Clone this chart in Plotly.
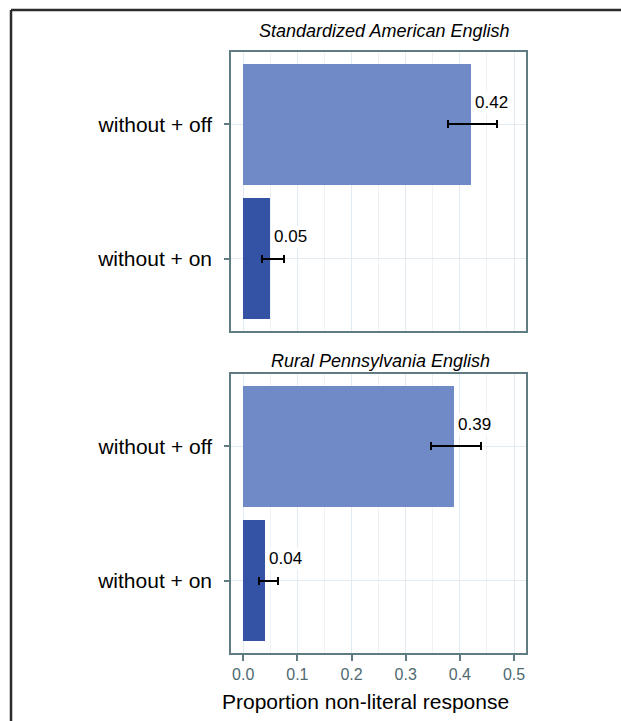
import plotly.graph_objects as go

# Proportion of non-literal responses by condition, for two dialect groups
panels = ["Standardized American English", "Rural Pennsylvania English"]
categories = ["without + on", "without + off"]

sae_values = [0.05, 0.42]
sae_lo = [0.035, 0.378]
sae_hi = [0.076, 0.469]

rpe_values = [0.04, 0.39]
rpe_lo = [0.030, 0.347]
rpe_hi = [0.065, 0.439]

x_ticks = [0.0, 0.1, 0.2, 0.3, 0.4, 0.5]
x_ticktext = ["0.0", "0.1", "0.2", "0.3", "0.4", "0.5"]
x_title = "Proportion non-literal response"

bar_colors = ["#3553a5", "#6f8ac7"]

W, H = 621, 721
FONT = "Liberation Sans, Arial, sans-serif"
GRID = "#e2eaf2"
BORDER = "#5f7c82"
TICKCOL = "#4f6a70"

# pixel helpers for layout placement
def px_x(p):
    return p / W

def px_y(p):
    return 1 - p / H

fig = go.Figure()

series = [
    (sae_values, sae_lo, sae_hi, "x", "y"),
    (rpe_values, rpe_lo, rpe_hi, "x2", "y2"),
]

for vals, lo, hi, xa, ya in series:
    fig.add_trace(go.Bar(
        x=vals, y=categories, orientation="h",
        marker=dict(color=bar_colors, line=dict(width=0)),
        width=0.9,
        error_x=dict(
            type="data", symmetric=False,
            array=[h - v for h, v in zip(hi, vals)],
            arrayminus=[v - l for v, l in zip(vals, lo)],
            color="black", thickness=2, width=4,
        ),
        xaxis=xa, yaxis=ya, showlegend=False, hoverinfo="skip",
    ))
    for v, c in zip(vals, categories):
        fig.add_annotation(
            x=v, y=c, xref=xa, yref=ya, text=f"{v:.2f}",
            showarrow=False, xanchor="left", yanchor="middle",
            xshift=2, yshift=22, bgcolor="white",
            font=dict(family=FONT, size=17, color="black"),
        )

x_dom = [px_x(231), px_x(526)]
x_range = [-0.0225, 0.522]
y_range = [-0.54, 1.54]

common_x = dict(
    range=x_range, domain=x_dom, tickvals=x_ticks, ticktext=x_ticktext,
    showgrid=True, gridcolor=GRID, gridwidth=1, zeroline=False,
    showline=True, mirror=True, linecolor=BORDER, linewidth=1.5,
    tickcolor=BORDER, tickwidth=1.5,
    tickfont=dict(family=FONT, size=16, color=TICKCOL),
    minor=dict(dtick=0.05, tick0=0.05, showgrid=True, gridcolor="#edf1f6", gridwidth=1),
    fixedrange=True,
)
common_y = dict(
    type="category", categoryorder="array", categoryarray=categories,
    range=y_range, showgrid=True, gridcolor=GRID, gridwidth=1,
    showline=True, mirror=True, linecolor=BORDER, linewidth=1.5,
    ticks="outside", ticklen=5, tickcolor=BORDER, tickwidth=1.5,
    tickfont=dict(family=FONT, size=21, color="black"),
    ticklabelstandoff=8,
)

fig.update_layout(
    width=W, height=H,
    margin=dict(l=0, r=0, t=0, b=0),
    paper_bgcolor="white", plot_bgcolor="white",
    bargap=0,
    xaxis=dict(common_x, anchor="y", ticks="", showticklabels=False, matches="x2"),
    xaxis2=dict(common_x, anchor="y2", ticks="outside", ticklen=6),
    yaxis=dict(common_y, domain=[px_y(331), px_y(52)], anchor="x"),
    yaxis2=dict(common_y, domain=[px_y(653), px_y(374)], anchor="x2"),
)

# x-axis title below the lower panel
fig.add_annotation(
    x=px_x(366), y=px_y(701), xref="paper", yref="paper", text=x_title,
    showarrow=False, xanchor="center", yanchor="middle",
    font=dict(family=FONT, size=21, color="black"),
)

# panel titles
for title, xpix, ypix in zip(panels, [384, 380], [31, 361]):
    fig.add_annotation(
        x=px_x(xpix), y=px_y(ypix), xref="paper", yref="paper",
        text=f"<i>{title}</i>", showarrow=False, xanchor="center", yanchor="middle",
        font=dict(family=FONT, size=18, color="black"),
    )

# outer frame (top and left edges)
frame = dict(type="line", xref="paper", yref="paper",
             line=dict(color="#2b2b2b", width=2.5))
fig.add_shape(frame, x0=px_x(11), y0=px_y(10), x1=1.0, y1=px_y(10))
fig.add_shape(frame, x0=px_x(11), y0=px_y(10), x1=px_x(11), y1=0.0)

fig.write_html("out.html")
